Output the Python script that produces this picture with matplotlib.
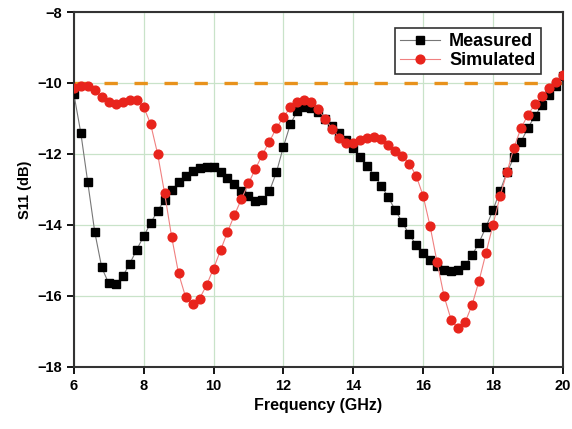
import numpy as np
import matplotlib
matplotlib.use("Agg")
import matplotlib.pyplot as plt

plt.rcParams['font.family'] = ['Liberation Sans', 'DejaVu Sans']
plt.rcParams['font.weight'] = 'bold'

freq = np.round(np.arange(6.0, 20.01, 0.2), 1)

measured = [-10.3, -11.4, -12.8, -14.2, -15.2, -15.65, -15.68, -15.45, -15.1, -14.7,
            -14.32, -13.95, -13.6, -13.3, -13.03, -12.8, -12.61, -12.49, -12.41, -12.36,
            -12.38, -12.52, -12.69, -12.85, -13.04, -13.2, -13.33, -13.31, -13.05, -12.52,
            -11.8, -11.16, -10.79, -10.67, -10.71, -10.83, -11.02, -11.21, -11.42, -11.61,
            -11.82, -12.08, -12.33, -12.61, -12.89, -13.22, -13.58, -13.92, -14.27, -14.56,
            -14.79, -15.0, -15.17, -15.26, -15.3, -15.28, -15.14, -14.86, -14.5, -14.06,
            -13.58, -13.05, -12.52, -12.1, -11.66, -11.27, -10.93, -10.63, -10.35, -10.08,
            -9.8]

simulated = [-10.15, -10.08, -10.08, -10.2, -10.39, -10.53, -10.6, -10.53, -10.49, -10.49,
             -10.67, -11.16, -12.0, -13.11, -14.33, -15.37, -16.03, -16.24, -16.08, -15.7,
             -15.23, -14.72, -14.2, -13.72, -13.27, -12.83, -12.42, -12.02, -11.65, -11.27,
             -10.96, -10.69, -10.55, -10.49, -10.53, -10.74, -11.02, -11.3, -11.54, -11.7,
             -11.7, -11.61, -11.54, -11.52, -11.58, -11.74, -11.91, -12.05, -12.27, -12.61,
             -13.18, -14.04, -15.05, -16.01, -16.67, -16.92, -16.75, -16.26, -15.58, -14.79,
             -14.0, -13.2, -12.52, -11.82, -11.28, -10.9, -10.6, -10.37, -10.15, -9.96,
             -9.78]

threshold = -10

fig = plt.figure(figsize=(5.72, 4.29), dpi=100)
ax = fig.add_axes([0.129, 0.145, 0.855, 0.827])

ax.grid(True, color='#c9e3c9', linewidth=0.9, zorder=0)
ax.axhline(threshold, color='#e8921c', linestyle=(0, (4, 5)), linewidth=2.4, zorder=2)

ax.plot(freq, measured, color='#777777', linewidth=0.8, marker='s', markersize=5.2,
        markerfacecolor='black', markeredgecolor='black', label='Measured', zorder=3)
ax.plot(freq, simulated, color='#f08080', linewidth=0.8, marker='o', markersize=6.3,
        markerfacecolor='#e8241c', markeredgecolor='#e8241c', label='Simulated', zorder=4)

ax.set_xlim(6, 20)
ax.set_ylim(-18, -8)
ax.set_xticks(range(6, 21, 2))
ax.set_yticks(range(-18, -7, 2))
ax.tick_params(direction='out', length=5, width=1.3, labelsize=10.5)
for s in ax.spines.values():
    s.set_linewidth(1.5)
    s.set_color('#333333')

ax.set_xlabel('Frequency (GHz)', fontsize=11.5, fontweight='bold')
ax.set_ylabel('S11 (dB)', fontsize=10.5, fontweight='bold')

leg = ax.legend(loc='upper right', bbox_to_anchor=(0.962, 0.966), fontsize=13,
                fancybox=False, framealpha=1, edgecolor='#333333',
                handlelength=2.2, handletextpad=0.5, borderpad=0.3,
                labelspacing=0.1, borderaxespad=0.2)
leg.get_frame().set_linewidth(1.2)

fig.savefig('out.png', dpi=100)
